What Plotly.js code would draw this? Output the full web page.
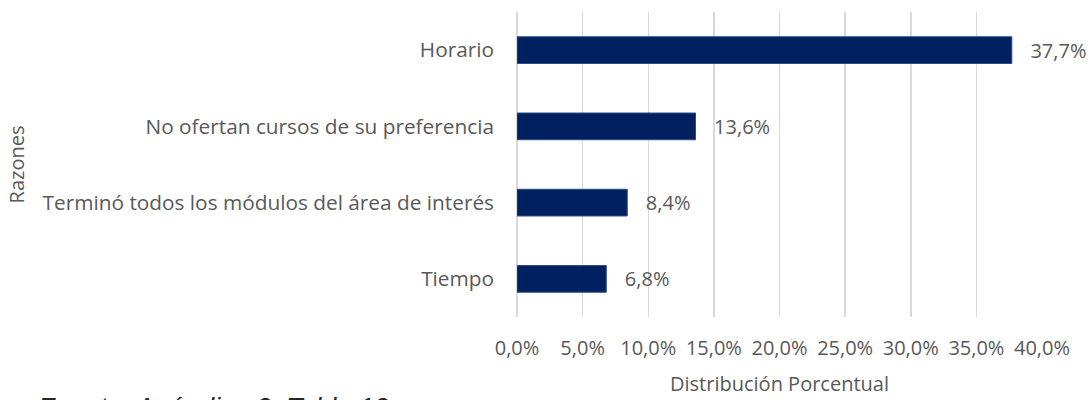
<!DOCTYPE html>
<html>
<head>
<meta charset="utf-8">
<script src="https://cdn.plot.ly/plotly-3.0.1.min.js"></script>
<style>html,body{margin:0;padding:0;background:#fff;}#chart{width:1091px;height:400px;}</style>
</head>
<body>
<div id="chart"></div>
<script>
const categories = ["Horario", "No ofertan cursos de su preferencia", "Terminó todos los módulos del área de interés", "Tiempo"];
const values = [37.7, 13.6, 8.4, 6.8];
const tickValues = [0, 5, 10, 15, 20, 25, 30, 35, 40];
const tickLabels = ["0,0%", "5,0%", "10,0%", "15,0%", "20,0%", "25,0%", "30,0%", "35,0%", "40,0%"];
const xTitle = "Distribución Porcentual";
const yTitle = "Razones";
const sourceNote = "Fuente: Apéndice 2, Tabla 12";

const grey = "#595959";
const font = "Open Sans, Noto Sans, sans-serif";
const fs = 20;

const trace = {
  type: "bar",
  orientation: "h",
  y: categories,
  x: values,
  width: 0.35,
  marker: {color: "#002060", line: {color: "#2a4a88", width: 1}},
  texttemplate: "   %{x:.1f}%",
  textposition: "outside",
  constraintext: "none",
  cliponaxis: false,
  textfont: {family: font, size: fs, color: grey},
  hoverinfo: "none"
};

const layout = {
  width: 1091,
  height: 400,
  margin: {l: 517, r: 49, t: 12, b: 83},
  paper_bgcolor: "#fff",
  plot_bgcolor: "#fff",
  separators: ",.",
  showlegend: false,
  font: {family: font, size: fs, color: grey},
  xaxis: {
    range: [0, 40],
    tickmode: "array",
    tickvals: tickValues,
    ticktext: tickLabels,
    showgrid: true,
    gridcolor: "#d9d9d9",
    gridwidth: 1.5,
    zeroline: true,
    zerolinecolor: "#d9d9d9",
    zerolinewidth: 1.5,
    showline: false,
    ticks: "",
    ticklabelstandoff: 17,
    tickfont: {family: font, size: fs, color: grey},
    title: {text: xTitle, font: {family: font, size: fs, color: grey}, standoff: 16}
  },
  yaxis: {
    type: "category",
    categoryorder: "array",
    categoryarray: categories.slice().reverse(),
    range: [-0.5, 3.5],
    showgrid: false,
    zeroline: false,
    showline: false,
    ticks: "",
    ticklabelstandoff: 22,
    tickfont: {family: font, size: 20.8, color: grey},
    title: {text: yTitle, font: {family: font, size: fs, color: grey}, standoff: 12}
  },
  annotations: [{
    xref: "paper", yref: "paper",
    x: -517/525, y: -74/305,
    xanchor: "left", yanchor: "top",
    xshift: 36,
    text: "<i>" + sourceNote + "</i>",
    showarrow: false,
    font: {family: "Liberation Sans, Arial, sans-serif", size: 27, color: "#262626"}
  }]
};

Plotly.newPlot("chart", [trace], layout, {displayModeBar: false, staticPlot: true});
</script>
</body>
</html>
